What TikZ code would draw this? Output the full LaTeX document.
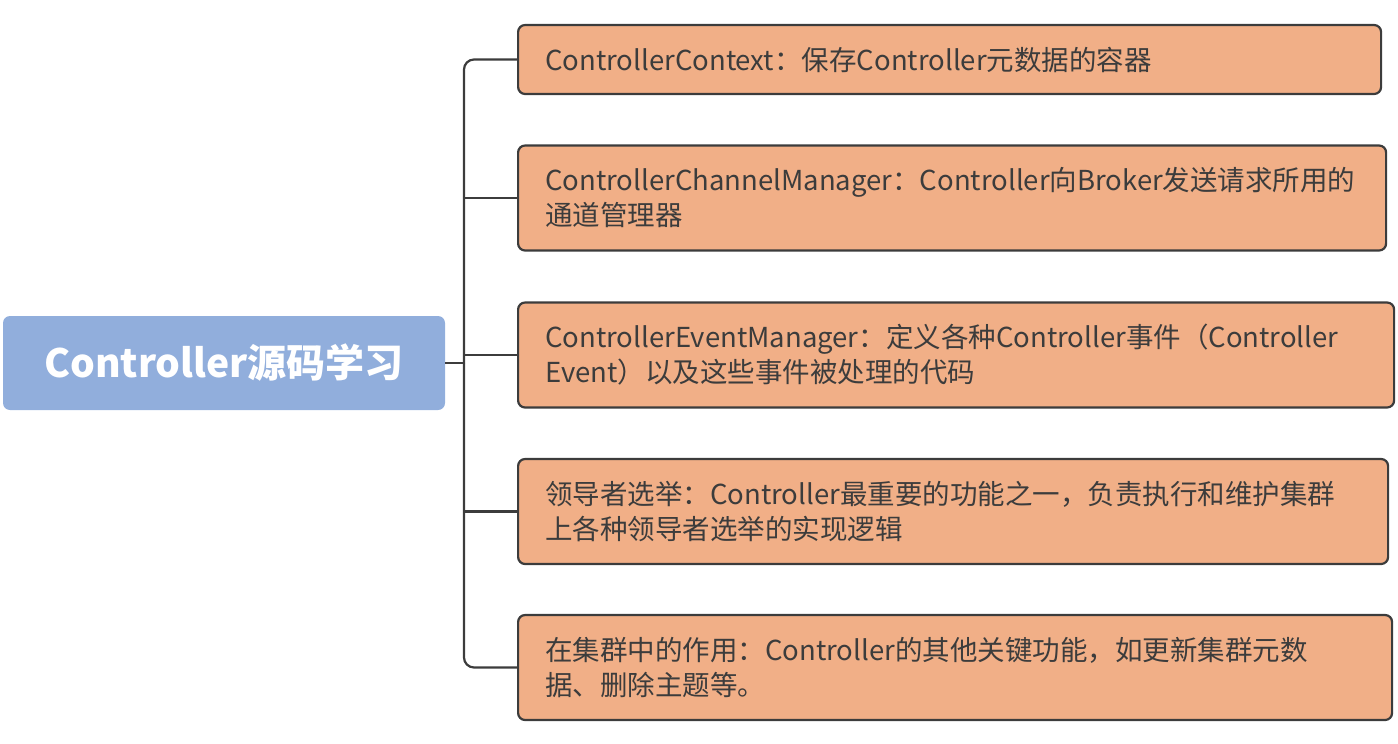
\documentclass[tikz,border=0pt]{standalone}
\usepackage{fontspec}
\setmainfont{Noto Sans CJK SC}
\usetikzlibrary{positioning}

\definecolor{rootblue}{HTML}{91AEDC}
\definecolor{topicorange}{HTML}{F1AF87}
\definecolor{inkgray}{HTML}{3C3C3C}

\tikzset{
  topic/.style={draw=inkgray, line width=2.2pt, fill=topicorange, rounded corners=7pt,
    anchor=west, align=left, text=inkgray, inner xsep=27pt,
    font=\fontsize{27.5}{35}\selectfont},
  branch/.style={draw=inkgray, line width=2.2pt}
}

\begin{document}
\begin{tikzpicture}[x=1pt,y=-1pt]
		\useasboundingbox (0,0) rectangle (1398,744);
		\node (root) at (224,363) [fill=rootblue, rounded corners=7pt, minimum width=442pt, minimum height=94pt, text=white, font=\fontsize{39}{44}\selectfont\bfseries] {Controller源码学习};
		
		\node (context) at (517,59.5) [topic, text width=809pt, minimum height=69pt] {ControllerContext：保存Controller元数据的容器};
		\node (channel) at (517,198) [topic, text width=814pt, minimum height=105pt] {ControllerChannelManager：Controller向Broker发送请求所用的\\通道管理器};
		\node (event) at (517,355) [topic, text width=822pt, minimum height=105pt] {ControllerEventManager：定义各种Controller事件（Controller\\Event）以及这些事件被处理的代码};
		\node (election) at (517,511.5) [topic, text width=816pt, minimum height=105pt] {领导者选举：Controller最重要的功能之一，负责执行和维护集群\\上各种领导者选举的实现逻辑};
		\node (cluster) at (517,667.5) [topic, text width=820pt, minimum height=105pt] {在集群中的作用：Controller的其他关键功能，如更新集群元数\\据、删除主题等。};
		
		\coordinate (hub) at (464,363);
		\draw[branch] (root) -- (hub);
		\draw[branch, rounded corners=10pt] (hub) |- (context);
		\draw[branch, rounded corners=10pt] (hub) |- (cluster);
		\draw[branch] (hub) |- (channel);
		\draw[branch] (hub) |- (event);
		\draw[branch] (hub) |- (election);
	\end{tikzpicture}
\end{document}
